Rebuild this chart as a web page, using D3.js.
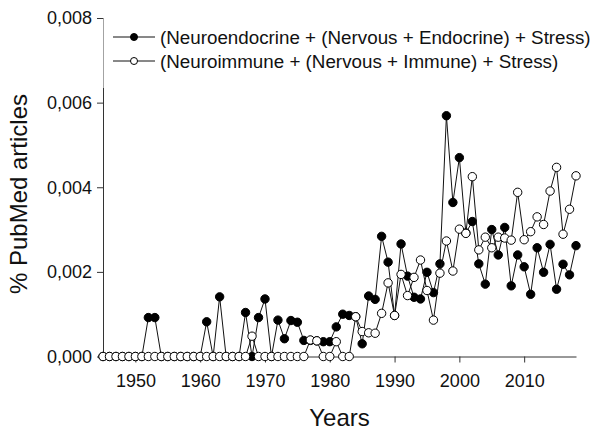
<!DOCTYPE html>
<html>
<head>
<meta charset="utf-8">
<script src="https://cdn.jsdelivr.net/npm/d3@7"></script>
<style>
  body { margin: 0; background: #fff; }
  svg { display: block; font-family: "Liberation Sans", Arial, sans-serif; }
</style>
</head>
<body>
<div id="chart"></div>
<script>
// years on the x axis
var years = [1945, 1946, 1947, 1948, 1949, 1950, 1951, 1952, 1953, 1954,
    1955, 1956, 1957, 1958, 1959, 1960, 1961, 1962, 1963, 1964,
    1965, 1966, 1967, 1968, 1969, 1970, 1971, 1972, 1973, 1974,
    1975, 1976, 1977, 1978, 1979, 1980, 1981, 1982, 1983, 1984,
    1985, 1986, 1987, 1988, 1989, 1990, 1991, 1992, 1993, 1994,
    1995, 1996, 1997, 1998, 1999, 2000, 2001, 2002, 2003, 2004,
    2005, 2006, 2007, 2008, 2009, 2010, 2011, 2012, 2013, 2014,
    2015, 2016, 2017, 2018];

// (Neuroendocrine + (Nervous + Endocrine) + Stress)
var endocrine = [0, 0, 0, 0, 0, 0, 0, 0.00092, 0.00092, 0,
    0, 0, 0, 0, 0, 0, 0.00082, 0, 0.00141, 0,
    0, 0, 0.00104, 0, 0.00092, 0.00136, 0, 0.00086, 0.00042, 0.00085,
    0.00081, 0.00038, 0.00038, 0.00037, 0.00035, 0.00035, 0.0007, 0.001, 0.00097, 0.00094,
    0.0003, 0.00143, 0.00135, 0.00284, 0.00223, 0.00097, 0.00266, 0.0019, 0.0014, 0.00136,
    0.00199, 0.00151, 0.00219, 0.00569, 0.00364, 0.0047, 0.00292, 0.00319, 0.00219, 0.00171,
    0.003, 0.0024, 0.00305, 0.00167, 0.0024, 0.00212, 0.00147, 0.00257, 0.00199, 0.00265,
    0.00159, 0.00218, 0.00193, 0.00262];

// (Neuroimmune + (Nervous + Immune) + Stress)
var immune = [0, 0, 0, 0, 0, 0, 0, 0, 0, 0,
    0, 0, 0, 0, 0, 0, 0, 0, 0, 0,
    0, 0, 0, 0.00048, 0, 0, 0, 0, 0, 0,
    0, 0, 0.00039, 0.00037, 0, 0, 0.00035, 0, 0, 0.00094,
    0.00059, 0.00056, 0.00055, 0.00102, 0.00174, 0.00097, 0.00194, 0.00144, 0.00187, 0.00228,
    0.00156, 0.00086, 0.00197, 0.00273, 0.00202, 0.00301, 0.00291, 0.00425, 0.00252, 0.00282,
    0.00257, 0.00282, 0.0028, 0.00275, 0.00388, 0.00276, 0.00295, 0.0033, 0.00312, 0.00391,
    0.00447, 0.00289, 0.00348, 0.00427];

var seriesNames = ['(Neuroendocrine + (Nervous + Endocrine) + Stress)',
    '(Neuroimmune + (Nervous + Immune) + Stress)'];
var xTicks = [1950, 1960, 1970, 1980, 1990, 2000, 2010];
var yTicks = [0, 0.002, 0.004, 0.006, 0.008];

var width = 594, height = 432;
var margin = { top: 18, right: 18, bottom: 75.5, left: 103 };

var svg = d3.select('#chart').append('svg')
    .attr('width', width)
    .attr('height', height);

var xS = d3.scaleLinear()
    .domain([1945, 2018])
    .range([margin.left, width - margin.right]);
var yS = d3.scaleLinear()
    .domain([0, 0.008])
    .range([height - margin.bottom, margin.top]);

var commaFmt = d3.formatLocale({ decimal: ',', thousands: '.', grouping: [3], currency: ['', ''] }).format('.3f');

// axes
var yAxis = svg.append('g')
    .attr('transform', 'translate(' + margin.left + ',0)')
    .call(d3.axisLeft(yS).tickValues(yTicks).tickFormat(commaFmt).tickSize(6).tickSizeOuter(0).tickPadding(5));
var xAxis = svg.append('g')
    .attr('transform', 'translate(0,' + yS(0) + ')')
    .call(d3.axisBottom(xS).tickValues(xTicks).tickFormat(d3.format('d')).tickSize(6).tickSizeOuter(0).tickPadding(12));

[yAxis, xAxis].forEach(function(a) {
    a.selectAll('path, line').attr('stroke', '#333').attr('stroke-width', 1);
    a.selectAll('text')
        .attr('fill', '#111')
        .style('font-size', '18px')
        .style('font-family', '"Liberation Sans", Arial, sans-serif');
});

// axis titles
svg.append('text')
    .attr('x', (xS.range()[0] + xS.range()[1]) / 2)
    .attr('y', 426)
    .attr('text-anchor', 'middle')
    .attr('fill', '#111')
    .style('font-size', '24px')
    .text('Years');
svg.append('text')
    .attr('transform', 'translate(27,194) rotate(-90)')
    .attr('text-anchor', 'middle')
    .attr('fill', '#111')
    .style('font-size', '24px')
    .text('% PubMed articles');

var line = d3.line()
    .x(function(d, i) { return xS(years[i]); })
    .y(function(d) { return yS(d); });

function drawSeries(values, fill) {
    svg.append('path')
        .datum(values)
        .attr('d', line)
        .attr('fill', 'none')
        .attr('stroke', '#111')
        .attr('stroke-width', 1);
    svg.append('g').selectAll('circle')
        .data(values)
        .enter()
        .append('circle')
        .attr('cx', function(d, i) { return xS(years[i]); })
        .attr('cy', function(d) { return yS(d); })
        .attr('r', 4.2)
        .attr('fill', fill)
        .attr('stroke', '#000')
        .attr('stroke-width', 1);
}

drawSeries(endocrine, '#000');
drawSeries(immune, '#fff');

// legend (semi transparent box over the top of the y axis)
svg.append('rect')
    .attr('x', margin.left - 2)
    .attr('y', 19)
    .attr('width', width - margin.left + 2)
    .attr('height', 69)
    .attr('fill', '#fff')
    .attr('opacity', 0.55);

var legend = svg.append('g');
var fills = ['#000', '#fff'];
seriesNames.forEach(function(name, i) {
    var ly = 37 + i * 24;
    legend.append('line')
        .attr('x1', 113).attr('x2', 155)
        .attr('y1', ly).attr('y2', ly)
        .attr('stroke', '#111');
    legend.append('circle')
        .attr('cx', 134).attr('cy', ly)
        .attr('r', 3.5)
        .attr('fill', fills[i])
        .attr('stroke', '#000');
    legend.append('text')
        .attr('x', 160)
        .attr('y', ly)
        .attr('dy', '0.35em')
        .attr('fill', '#111')
        .style('font-size', '18.8px')
        .text(name);
});
</script>
</body>
</html>
